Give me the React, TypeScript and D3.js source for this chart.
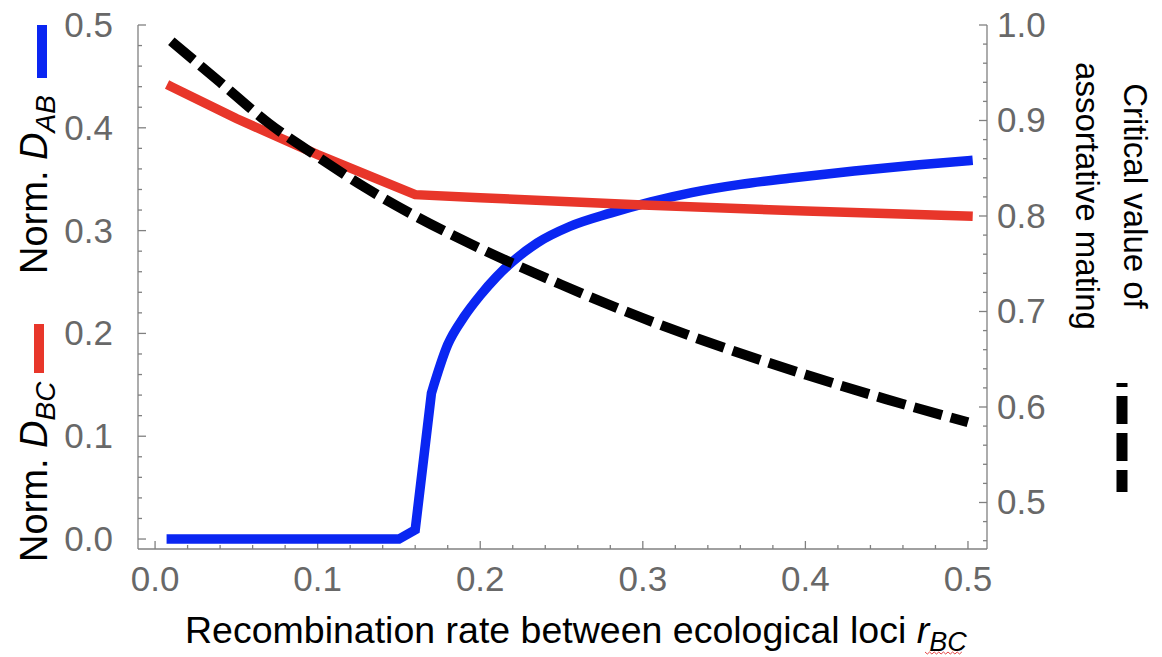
import React from "react";
import * as d3 from "d3";

// ---- data ----
const rBlue = [0.01, 0.15, 0.16, 0.17, 0.18, 0.19, 0.2, 0.21, 0.22, 0.235, 0.255, 0.28, 0.305, 0.33, 0.36, 0.39, 0.43, 0.47, 0.5];
const dAB = [0, 0, 0.009, 0.142, 0.189, 0.216, 0.237, 0.255, 0.27, 0.288, 0.304, 0.317, 0.328, 0.337, 0.345, 0.351, 0.358, 0.364, 0.368];

const rRed = [0.01, 0.05, 0.1, 0.16, 0.2, 0.3, 0.4, 0.5];
const dBC = [0.44, 0.409, 0.374, 0.335, 0.332, 0.325, 0.319, 0.314];

const rBlack = [0.01, 0.04, 0.07, 0.1, 0.13, 0.16, 0.2, 0.25, 0.3, 0.35, 0.4, 0.45, 0.5];
const critAM = [0.983, 0.94, 0.897, 0.862, 0.829, 0.8, 0.766, 0.728, 0.693, 0.662, 0.634, 0.608, 0.584];

const xTicks = [0, 0.1, 0.2, 0.3, 0.4, 0.5];
const xTickLabels = ["0.0", "0.1", "0.2", "0.3", "0.4", "0.5"];
const yLeftTicks = [0, 0.1, 0.2, 0.3, 0.4, 0.5];
const yLeftTickLabels = ["0.0", "0.1", "0.2", "0.3", "0.4", "0.5"];
const yRightTicks = [0.5, 0.6, 0.7, 0.8, 0.9, 1.0];
const yRightTickLabels = ["0.5", "0.6", "0.7", "0.8", "0.9", "1.0"];

const W = 1162;
const H = 657;
const FONT = "'Liberation Sans', Arial, Helvetica, sans-serif";
const GRAY = "#808080";
const TICKGRAY = "#686868";
const BLUE = "#0a26f2";
const RED = "#e8362a";

export default function App() {
  const x = d3.scaleLinear().domain([-0.0105, 0.5117]).range([138, 987]);
  const yL = d3.scaleLinear().domain([-0.0097, 0.5]).range([549, 25]);
  const yR = d3.scaleLinear().domain([0.4513, 1.0]).range([549, 25]);

  const blue = rBlue.map((r, i) => [r, dAB[i]] as [number, number]);
  const red = rRed.map((r, i) => [r, dBC[i]] as [number, number]);
  const black = rBlack.map((r, i) => [r, critAM[i]] as [number, number]);

  const lineL = d3.line<[number, number]>().x((d) => x(d[0])).y((d) => yL(d[1]));
  const lineLs = d3
    .line<[number, number]>()
    .x((d) => x(d[0]))
    .y((d) => yL(d[1]))
    .curve(d3.curveMonotoneX);
  const lineR = d3
    .line<[number, number]>()
    .x((d) => x(d[0]))
    .y((d) => yR(d[1]))
    .curve(d3.curveMonotoneX);

  // blue: piecewise linear through the jump, smooth afterwards
  const splitIdx = rBlue.indexOf(0.17);
  const bluePathA = lineL(blue.slice(0, splitIdx + 1)) ?? "";
  const bluePathB = (lineLs(blue.slice(splitIdx)) ?? "").replace(/^M[^A-Za-z]*/, "");
  const bluePath = bluePathA + bluePathB;

  const isMajor = (v: number) => Math.abs(v * 10 - Math.round(v * 10)) < 1e-6;
  const xMinor = d3.range(0, 0.5001, 0.02);
  const yLMinor = d3.range(0, 0.5001, 0.02);
  const yRMinor = d3.range(0.46, 1.0001, 0.02);

  // spell-check squiggle under subscript
  const sq: string[] = [];
  for (let i = 0; i <= 16; i++) {
    const px = 925 + i * 2.3;
    const py = 652 + (i % 2 === 0 ? 0 : 2);
    sq.push(`${i === 0 ? "M" : "L"}${px},${py}`);
  }

  return (
    <svg
      width={W}
      height={H}
      style={{ position: "absolute", left: 0, top: 0, background: "#fff" }}
      fontFamily={FONT}
    >
      {/* axes */}
      <g stroke={GRAY} strokeWidth={1.3} fill="none">
        <line x1={138} y1={25} x2={138} y2={549} />
        <line x1={987} y1={25} x2={987} y2={549} />
        <line x1={138} y1={549} x2={987} y2={549} />
        {xMinor.map((v, i) => (
          <line key={"xm" + i} x1={x(v)} x2={x(v)} y1={549} y2={549 - (isMajor(v) ? 8 : 4)} />
        ))}
        {yLMinor.map((v, i) => (
          <line key={"ylm" + i} x1={138} x2={138 + (isMajor(v) ? 8 : 4)} y1={yL(v)} y2={yL(v)} />
        ))}
        {yRMinor.map((v, i) => (
          <line key={"yrm" + i} x1={987} x2={987 - (isMajor(v) ? 8 : 4)} y1={yR(v)} y2={yR(v)} />
        ))}
      </g>

      {/* tick labels */}
      <g fill={TICKGRAY} fontSize={35}>
        {xTicks.map((v, i) => (
          <text key={"xt" + i} x={x(v)} y={591} textAnchor="middle">
            {xTickLabels[i]}
          </text>
        ))}
        {yLeftTicks.map((v, i) => (
          <text key={"ylt" + i} x={113} y={yL(v) + 12} textAnchor="end">
            {yLeftTickLabels[i]}
          </text>
        ))}
        {yRightTicks.map((v, i) => (
          <text key={"yrt" + i} x={997} y={yR(v) + 12} textAnchor="start">
            {yRightTickLabels[i]}
          </text>
        ))}
      </g>

      {/* data lines */}
      <path d={bluePath} fill="none" stroke={BLUE} strokeWidth={9.5} strokeLinecap="square" strokeLinejoin="miter" />
      <path d={lineL(red) ?? ""} fill="none" stroke={RED} strokeWidth={9.5} strokeLinecap="square" />
      <path d={lineR(black) ?? ""} fill="none" stroke="#000" strokeWidth={10} strokeDasharray="29,9" />

      {/* x title */}
      <text x={185} y={643} fontSize={37.5} fill="#000">
        Recombination rate between ecological loci{" "}
        <tspan fontStyle="italic">r</tspan>
        <tspan fontStyle="italic" fontSize={27} dy={8}>
          BC
        </tspan>
      </text>
      <path d={sq.join(" ")} fill="none" stroke="#e03030" strokeWidth={0.9} />

      {/* left labels */}
      <g transform="translate(47,274) rotate(-90)">
        <text x={0} y={0} fontSize={38} fill="#000">
          Norm. <tspan fontStyle="italic">D</tspan>
          <tspan fontStyle="italic" fontSize={28} dy={8}>
            AB
          </tspan>
        </text>
      </g>
      <rect x={37} y={25} width={10} height={53} fill={BLUE} />
      <g transform="translate(47,562) rotate(-90)">
        <text x={0} y={0} fontSize={38} fill="#000">
          Norm. <tspan fontStyle="italic">D</tspan>
          <tspan fontStyle="italic" fontSize={28} dy={8}>
            BC
          </tspan>
        </text>
      </g>
      <rect x={34} y={324} width={10} height={49} fill={RED} />

      {/* right labels */}
      <g transform="translate(1124,196) rotate(90)">
        <text x={0} y={0} fontSize={33} fill="#000" textAnchor="middle">
          Critical value of
        </text>
      </g>
      <g transform="translate(1076,196) rotate(90)">
        <text x={0} y={0} fontSize={33} fill="#000" textAnchor="middle">
          assortative mating
        </text>
      </g>
      <line x1={1122} y1={383} x2={1122} y2={492} stroke="#000" strokeWidth={11} strokeDasharray="28,9" strokeDashoffset={24} />
    </svg>
  );
}
